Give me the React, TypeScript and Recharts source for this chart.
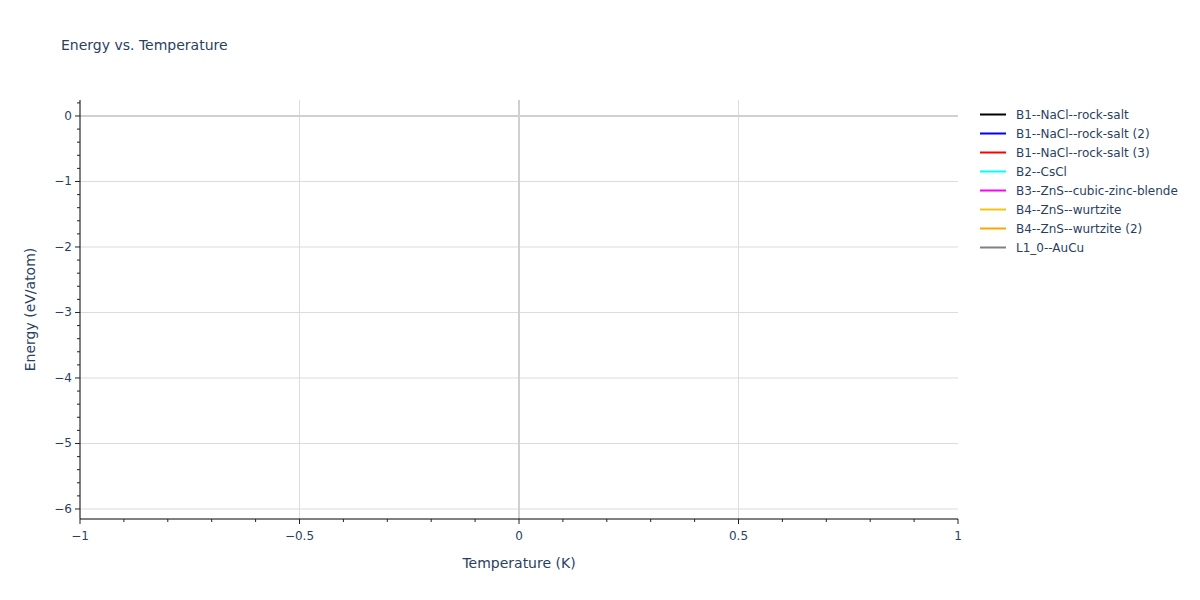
import React from 'react'
import { Legend, Line, LineChart, ReferenceLine, XAxis, YAxis } from 'recharts';

// the source figure has legend entries but no plotted points
const seriesNames = [
  'B1--NaCl--rock-salt',
  'B1--NaCl--rock-salt (2)',
  'B1--NaCl--rock-salt (3)',
  'B2--CsCl',
  'B3--ZnS--cubic-zinc-blende',
  'B4--ZnS--wurtzite',
  'B4--ZnS--wurtzite (2)',
  'L1_0--AuCu',
];
const seriesColors = ['#000000', '#0000ff', '#ff0000', '#00ffff', '#ff00ff', '#f2c40f', '#ffa500', '#808080'];
const seriesData: { temperature: number, energy: number }[][] = [[], [], [], [], [], [], [], []];

const xMajorTicks = [-1, -0.5, 0, 0.5, 1];
const xMinorTicks = [-1, -0.9, -0.8, -0.7, -0.6, -0.5, -0.4, -0.3, -0.2, -0.1, 0, 0.1, 0.2, 0.3, 0.4, 0.5, 0.6, 0.7, 0.8, 0.9, 1];
const yMajorTicks = [0, -1, -2, -3, -4, -5, -6];
const yMinorTicks = [0.2, 0, -0.2, -0.4, -0.6, -0.8, -1, -1.2, -1.4, -1.6, -1.8, -2, -2.2, -2.4, -2.6, -2.8, -3,
  -3.2, -3.4, -3.6, -3.8, -4, -4.2, -4.4, -4.6, -4.8, -5, -5.2, -5.4, -5.6, -5.8, -6];
const xDomain = [-1, 1];
const yDomain = [-6.153, 0.244];

const FONT = '"DejaVu Sans", verdana, arial, sans-serif';
const TEXT = '#2a3f5f';

const isMajor = (v: number, majors: number[]) => majors.some(m => Math.abs(m - v) < 1e-9);
const fmt = (v: number) => String(v).replace('-', '\u2212');

const XTick = (props: any) => {
  const { x, y, payload } = props;
  const major = isMajor(payload.value, xMajorTicks);
  return (
    <g>
      <line x1={x} x2={x} y1={y} y2={y + (major ? 5 : 3)} stroke="#222" strokeWidth={1} />
      {major && (
        <text x={x} y={y + 21} textAnchor="middle" fontSize={12} fill={TEXT} fontFamily={FONT}>
          {fmt(payload.value)}
        </text>
      )}
    </g>
  );
};

const YTick = (props: any) => {
  const { x, y, payload } = props;
  const major = isMajor(payload.value, yMajorTicks);
  return (
    <g>
      <line x1={x} x2={x - (major ? 5 : 3)} y1={y} y2={y} stroke="#222" strokeWidth={1} />
      {major && (
        <text x={x - 8} y={y + 4} textAnchor="end" fontSize={12} fill={TEXT} fontFamily={FONT}>
          {fmt(payload.value)}
        </text>
      )}
    </g>
  );
};

const LegendBox = () => (
  <div style={{ fontFamily: FONT, fontSize: 12, color: TEXT }}>
    {seriesNames.map((name, i) => (
      <div key={name} style={{ display: 'flex', alignItems: 'center', height: 19 }}>
        <svg width={36} height={19} style={{ flex: 'none' }}>
          <line x1={0} x2={26} y1={9.5} y2={9.5} stroke={seriesColors[i]} strokeWidth={2} />
        </svg>
        <span style={{ whiteSpace: 'nowrap' }}>{name}</span>
      </div>
    ))}
  </div>
);

const App = () => {
  return (
    <div style={{ position: 'absolute', left: 0, top: 0, width: 1200, height: 600, background: '#fff', fontFamily: FONT }}>
      <div style={{ position: 'absolute', left: 61, top: 37, fontSize: 14, lineHeight: '16px', color: TEXT, whiteSpace: 'nowrap' }}>
        Energy vs. Temperature
      </div>
      <LineChart width={1200} height={600} margin={{ top: 100, right: 242, bottom: 41, left: 20 }}>
        {xMajorTicks.filter(v => v !== 0 && v !== -1 && v !== 1).map(v => (
          <ReferenceLine key={'gx' + v} x={v} stroke="#dcdcdc" strokeWidth={1} />
        ))}
        {yMajorTicks.filter(v => v !== 0).map(v => (
          <ReferenceLine key={'gy' + v} y={v} stroke="#dcdcdc" strokeWidth={1} />
        ))}
        <ReferenceLine x={0} stroke="#d0d0d0" strokeWidth={2} />
        <ReferenceLine y={0} stroke="#d0d0d0" strokeWidth={2} />
        <XAxis
          type="number"
          dataKey="temperature"
          domain={xDomain}
          ticks={xMinorTicks}
          interval={0}
          allowDataOverflow
          height={40}
          tickSize={0}
          tickMargin={0}
          tickLine={false}
          tick={<XTick />}
          axisLine={{ stroke: '#000', strokeWidth: 1 }}
          label={{ value: 'Temperature (K)', position: 'insideBottom', offset: 0, dy: 9, fill: TEXT, fontSize: 14, fontFamily: FONT }}
        />
        <YAxis
          type="number"
          dataKey="energy"
          domain={yDomain}
          ticks={yMinorTicks}
          interval={0}
          allowDataOverflow
          width={60}
          tickSize={0}
          tickMargin={0}
          tickLine={false}
          tick={<YTick />}
          axisLine={{ stroke: '#000', strokeWidth: 1 }}
          label={{ value: 'Energy (eV/atom)', angle: -90, position: 'insideLeft', offset: 0, dx: 10, fill: TEXT, fontSize: 14, fontFamily: FONT, style: { textAnchor: 'middle' } }}
        />
        {seriesNames.map((name, i) => (
          <Line
            key={name}
            name={name}
            data={seriesData[i]}
            dataKey="energy"
            stroke={seriesColors[i]}
            strokeWidth={2}
            dot={false}
            isAnimationActive={false}
          />
        ))}
        <Legend
          layout="vertical"
          align="center"
          verticalAlign="middle"
          content={<LegendBox />}
          wrapperStyle={{ position: 'absolute', left: 980, top: 105, width: 220 }}
        />
      </LineChart>
    </div>
  );
}

export default App
